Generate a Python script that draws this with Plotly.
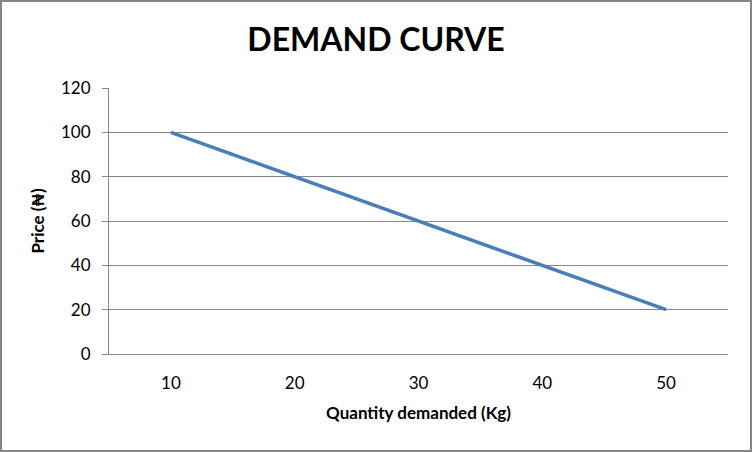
import plotly.graph_objects as go

quantity = ["10", "20", "30", "40", "50"]
price = [100, 80, 60, 40, 20]
y_ticks = [0, 20, 40, 60, 80, 100, 120]

W, H = 752, 452
L, R, T, B = 109, 24, 88, 98
pw, ph = W - L - R, H - T - B

fig = go.Figure()
fig.add_trace(go.Scatter(
    x=quantity, y=price, mode="lines",
    line=dict(color="#4A7EBB", width=3.5),
    showlegend=False, hoverinfo="skip",
))

font = "Lato, Carlito, DejaVu Sans, sans-serif"

fig.update_layout(
    width=W, height=H,
    margin=dict(l=L, r=R, t=T, b=B),
    paper_bgcolor="white", plot_bgcolor="white",
    font=dict(family=font, color="black"),
    title=dict(text="<b>DEMAND CURVE</b>", x=0.5, xanchor="center",
               y=1 - 40 / H, yanchor="middle",
               font=dict(size=32, family=font, color="black")),
    xaxis=dict(
        type="category", range=[-0.5, 4.5],
        showgrid=False, showline=True, linecolor="#868686", linewidth=1,
        ticks="", tickfont=dict(size=17), ticklabelstandoff=14,
        title=dict(text="<b>Quantity demanded (Kg)</b>", font=dict(size=17), standoff=14),
        zeroline=False,
    ),
    yaxis=dict(
        range=[0, 120], tickvals=y_ticks, showgrid=True, gridcolor="#868686",
        gridwidth=1, showline=True, linecolor="#868686", linewidth=1,
        ticks="outside", ticklen=6, tickcolor="#868686",
        tickfont=dict(size=17), zeroline=False, ticklabelstandoff=8,
        title=dict(text="<b>Price (₦)</b>", font=dict(size=17), standoff=12),
    ),
    shapes=[dict(
        type="rect", xref="paper", yref="paper",
        x0=(1 - L) / pw, x1=(W - 1 - L) / pw,
        y0=-(H - 1 - T - ph) / ph, y1=1 + (T - 1) / ph,
        line=dict(color="#868686", width=2), fillcolor="rgba(0,0,0,0)",
        layer="above",
    )],
)

fig.write_html("out.html", config={"displayModeBar": False},
               post_script="document.body.style.margin='0';document.body.style.overflow='hidden';")
